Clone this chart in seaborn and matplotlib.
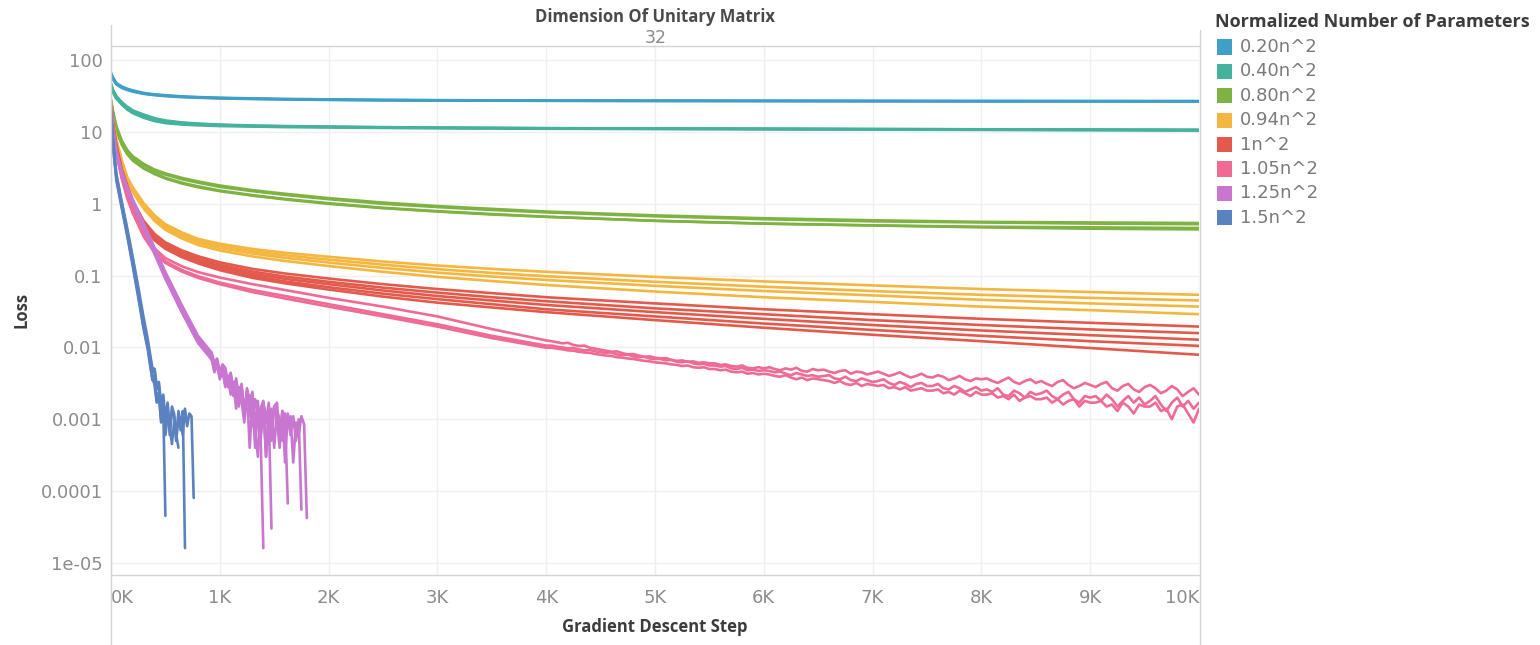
import numpy as np
import pandas as pd
import matplotlib
matplotlib.use("Agg")
import matplotlib.pyplot as plt
import seaborn as sns
from matplotlib.lines import Line2D
from matplotlib.patches import Rectangle
from matplotlib.ticker import NullLocator

# ---------------------------------------------------------------- data
GROUPS = ["0.20n^2", "0.40n^2", "0.80n^2", "0.94n^2", "1n^2", "1.05n^2", "1.25n^2", "1.5n^2"]
COLORS = ["#3f9fc7", "#45b29d", "#7eb343", "#f4b63f", "#e3594b", "#ef6b93", "#c876cf", "#5a82c0"]

# shared step grid for the smooth runs
STEPS = [0, 20, 50, 100, 150, 200, 300, 400, 500, 650, 800, 1000, 1300, 1600,
         2000, 2500, 3000, 3500, 4000, 5000, 6000, 7000, 8000, 9000, 10000]

LOSS_020 = [
    [66, 55, 47, 42, 39, 37, 34.5, 33, 32, 31, 30.3, 29.7, 29.1, 28.6, 28.2, 27.8, 27.6, 27.4, 27.3, 27.2, 27.1, 27.0, 26.9, 26.9, 26.8],
    [64, 54, 46, 41, 38.5, 36.5, 34, 32.6, 31.6, 30.6, 30.0, 29.4, 28.8, 28.4, 28.0, 27.6, 27.4, 27.3, 27.2, 27.0, 26.9, 26.8, 26.7, 26.7, 26.6],
    [67, 57, 48, 43, 40, 38, 35, 33.5, 32.5, 31.4, 30.7, 30.0, 29.4, 28.9, 28.5, 28.1, 27.8, 27.6, 27.5, 27.4, 27.3, 27.2, 27.1, 27.0, 27.0],
]
LOSS_040 = [
    [46, 37, 31, 25.5, 22, 19.5, 17, 15.2, 14.2, 13.4, 12.9, 12.5, 12.2, 12.0, 11.8, 11.6, 11.5, 11.4, 11.3, 11.2, 11.1, 11.0, 10.9, 10.8, 10.7],
    [44, 35, 29, 24, 20.5, 18.3, 15.8, 14.2, 13.3, 12.7, 12.4, 12.1, 11.9, 11.7, 11.6, 11.4, 11.3, 11.2, 11.1, 11.0, 10.9, 10.8, 10.7, 10.6, 10.5],
    [45, 36, 30, 25, 21.5, 19, 16.5, 14.8, 13.9, 13.2, 12.8, 12.4, 12.1, 11.9, 11.7, 11.5, 11.4, 11.3, 11.2, 11.1, 11.0, 10.9, 10.8, 10.7, 10.6],
    [47, 38, 31.5, 26, 22.5, 20, 17.5, 15.6, 14.5, 13.6, 13.1, 12.7, 12.3, 12.1, 11.9, 11.7, 11.5, 11.4, 11.3, 11.2, 11.1, 11.0, 10.9, 10.8, 10.7],
]
LOSS_080 = [
    [28, 19, 12, 7.5, 5.6, 4.6, 3.6, 3.0, 2.65, 2.3, 2.05, 1.8, 1.55, 1.38, 1.2, 1.04, 0.93, 0.85, 0.78, 0.69, 0.63, 0.59, 0.56, 0.55, 0.54],
    [27, 18, 11.5, 7.2, 5.4, 4.4, 3.5, 2.9, 2.55, 2.2, 1.97, 1.72, 1.5, 1.33, 1.16, 1.0, 0.9, 0.82, 0.76, 0.67, 0.61, 0.57, 0.55, 0.53, 0.52],
    [26, 17, 10.5, 6.6, 4.9, 4.0, 3.1, 2.6, 2.25, 1.92, 1.7, 1.5, 1.3, 1.15, 1.0, 0.87, 0.78, 0.71, 0.66, 0.58, 0.53, 0.5, 0.48, 0.47, 0.46],
    [27, 17.5, 10.8, 6.8, 5.0, 4.1, 3.2, 2.7, 2.3, 1.97, 1.75, 1.53, 1.32, 1.17, 1.02, 0.88, 0.79, 0.72, 0.66, 0.58, 0.53, 0.5, 0.47, 0.45, 0.44],
]
LOSS_094 = [
    [23, 13.5, 7.8, 4.0, 2.35, 1.7, 1.02, 0.69, 0.52, 0.4, 0.325, 0.278, 0.235, 0.208, 0.183, 0.157, 0.138, 0.124, 0.113, 0.096, 0.083, 0.073, 0.065, 0.059, 0.054],
    [22, 13, 7.5, 3.8, 2.2, 1.6, 0.96, 0.65, 0.49, 0.375, 0.305, 0.26, 0.218, 0.192, 0.167, 0.142, 0.123, 0.109, 0.098, 0.082, 0.07, 0.061, 0.054, 0.049, 0.045],
    [22, 12.6, 7.2, 3.65, 2.1, 1.52, 0.91, 0.62, 0.465, 0.355, 0.288, 0.243, 0.203, 0.177, 0.152, 0.128, 0.11, 0.097, 0.087, 0.072, 0.061, 0.053, 0.046, 0.041, 0.037],
    [21, 12.2, 7.0, 3.5, 2.0, 1.45, 0.86, 0.58, 0.435, 0.33, 0.267, 0.224, 0.185, 0.16, 0.136, 0.113, 0.096, 0.084, 0.074, 0.06, 0.05, 0.043, 0.037, 0.033, 0.029],
]
LOSS_100 = [
    [25, 12.8, 6.5, 3.0, 1.8, 1.1, 0.58, 0.38, 0.29, 0.225, 0.186, 0.153, 0.124, 0.107, 0.091, 0.076, 0.065, 0.057, 0.05, 0.041, 0.034, 0.029, 0.025, 0.022, 0.0195],
    [24, 12.3, 6.2, 2.9, 1.72, 1.05, 0.55, 0.36, 0.275, 0.21, 0.174, 0.142, 0.114, 0.097, 0.082, 0.068, 0.058, 0.05, 0.044, 0.035, 0.029, 0.024, 0.0205, 0.0178, 0.0158],
    [24, 12, 6.0, 2.8, 1.65, 1.0, 0.52, 0.34, 0.26, 0.2, 0.165, 0.134, 0.106, 0.09, 0.076, 0.062, 0.052, 0.045, 0.039, 0.031, 0.025, 0.0205, 0.0172, 0.0148, 0.0128],
    [23, 11.6, 5.8, 2.7, 1.58, 0.96, 0.5, 0.325, 0.247, 0.19, 0.156, 0.126, 0.099, 0.083, 0.069, 0.056, 0.047, 0.04, 0.034, 0.027, 0.0215, 0.0175, 0.0145, 0.0122, 0.0105],
    [23, 11.2, 5.6, 2.6, 1.52, 0.92, 0.48, 0.31, 0.236, 0.181, 0.148, 0.119, 0.093, 0.078, 0.064, 0.051, 0.042, 0.036, 0.031, 0.024, 0.0188, 0.015, 0.0122, 0.0098, 0.0079],
]

# 1.05n^2: smooth part on STEPS up to 4000, then noisy tail (units of 1e-4)
LOSS_105_HEAD = [
    [25, 11.5, 5.4, 2.4, 1.3, 0.82, 0.4, 0.24, 0.175, 0.135, 0.112, 0.094, 0.076, 0.063, 0.049, 0.037, 0.027, 0.018, 0.0125],
    [26, 11, 5.2, 2.3, 1.25, 0.78, 0.37, 0.22, 0.158, 0.12, 0.098, 0.08, 0.063, 0.052, 0.04, 0.029, 0.021, 0.0145, 0.0106],
    [24, 10.5, 5.0, 2.2, 1.18, 0.74, 0.35, 0.208, 0.15, 0.114, 0.093, 0.076, 0.059, 0.048, 0.037, 0.027, 0.0195, 0.0135, 0.0099],
]
TAIL_105_START, TAIL_105_EVERY = 4050, 50
LOSS_105_TAIL = [
    [122, 118, 114, 116, 108, 105, 106, 99, 96, 93,
     90, 87, 88, 83, 80, 81, 77, 74, 75, 72,
     70, 71, 67, 65, 66, 63, 64, 61, 62, 60,
     60, 57, 58, 55, 54, 56, 52, 51, 53, 51,
     53, 50, 48, 51, 49, 52, 47, 46, 50, 48,
     49, 46, 44, 47, 48, 43, 46, 45, 42, 44,
     46, 43, 40, 42, 45, 41, 38, 40, 43, 39,
     38, 41, 39, 35, 37, 40, 36, 34, 37, 36,
     37, 34, 32, 35, 38, 33, 31, 34, 36, 32,
     34, 31, 29, 33, 35, 30, 27, 29, 32, 30,
     28, 31, 33, 27, 25, 29, 31, 26, 24, 28,
     30, 27, 23, 25, 29, 26, 21, 24, 27, 22],
    [106, 102, 100, 97, 98, 94, 91, 92, 88, 86,
     84, 85, 80, 78, 79, 75, 73, 74, 70, 69,
     69, 66, 67, 63, 62, 64, 60, 58, 59, 56,
     56, 54, 55, 51, 50, 52, 48, 49, 47, 48,
     47, 45, 46, 43, 41, 44, 42, 40, 41, 39,
     40, 41, 37, 36, 39, 35, 34, 37, 35, 33,
     34, 36, 32, 30, 33, 31, 28, 31, 32, 29,
     29, 31, 27, 26, 29, 27, 24, 26, 28, 25,
     26, 24, 27, 22, 21, 25, 23, 20, 24, 22,
     23, 25, 21, 19, 22, 24, 19, 17, 21, 20,
     21, 18, 22, 19, 15, 18, 21, 17, 20, 16,
     18, 21, 16, 13, 17, 20, 15, 18, 14, 17],
    [99, 96, 94, 91, 90, 87, 85, 84, 81, 79,
     77, 76, 73, 72, 70, 69, 67, 65, 64, 62,
     61, 60, 58, 57, 55, 56, 53, 52, 53, 50,
     50, 48, 49, 46, 45, 46, 43, 44, 42, 43,
     42, 40, 39, 41, 38, 36, 38, 35, 37, 36,
     35, 34, 32, 34, 31, 30, 32, 29, 31, 30,
     29, 30, 27, 28, 26, 28, 25, 26, 27, 25,
     25, 26, 23, 24, 22, 25, 23, 21, 24, 22,
     22, 23, 20, 21, 19, 22, 18, 20, 21, 19,
     19, 20, 17, 19, 16, 18, 19, 15, 18, 17,
     17, 18, 15, 16, 13, 17, 15, 12, 16, 15,
     15, 17, 13, 14, 10, 15, 16, 12, 9, 14],
]

# 1.25n^2: smooth head, then noisy tail (units of 1e-4) ending in a sharp drop
HEAD_125_STEPS = [0, 20, 50, 100, 150, 200, 300, 400, 500, 650, 800, 900]
LOSS_125_HEAD = [
    [19, 9.5, 5.0, 2.6, 1.58, 1.04, 0.46, 0.21, 0.095, 0.032, 0.012, 0.0078],
    [20, 10, 5.2, 2.7, 1.65, 1.1, 0.5, 0.23, 0.105, 0.036, 0.0135, 0.0088],
    [21, 10.5, 5.4, 2.8, 1.72, 1.15, 0.53, 0.245, 0.112, 0.039, 0.0145, 0.0094],
    [20, 10, 5.1, 2.65, 1.6, 1.07, 0.48, 0.22, 0.1, 0.034, 0.013, 0.0082],
    [19, 9.8, 5.0, 2.55, 1.55, 1.02, 0.45, 0.2, 0.09, 0.031, 0.0115, 0.0075],
]
TAIL_125_START, TAIL_125_EVERY = 925, 25
LOSS_125_TAIL = [
    [70, 45, 58, 36, 48, 28, 40, 22, 33, 14, 27, 18, 9, 21, 11, 17, 4, 14, 6, 0.16],
    [80, 55, 68, 40, 55, 31, 36, 44, 22, 33, 16, 28, 12, 24, 4, 20, 8, 18, 6, 16, 3, 12, 0.3],
    [85, 62, 70, 45, 58, 52, 34, 44, 25, 37, 20, 31, 12, 27, 18, 24, 7, 3, 14, 18,
     9, 17, 5, 15, 17, 6, 13, 10, 0.67],
    [75, 52, 64, 40, 50, 44, 28, 40, 21, 34, 15, 29, 11, 24, 20, 8, 19, 13, 5, 17,
     3, 14, 7, 15, 10, 4, 13, 2.5, 12, 6, 11, 5, 10, 0.55],
    [68, 50, 58, 38, 46, 33, 40, 24, 33, 19, 28, 25, 12, 22, 15, 9, 18, 14, 6, 16,
     12, 7, 14, 4, 13, 10, 5, 12, 8, 11, 2.5, 9, 6, 11, 8.5, 0.42],
]

# 1.5n^2: smooth head, then noisy tail (units of 1e-4) ending in a sharp drop
HEAD_150_STEPS = [0, 20, 50, 100, 150, 200, 250, 300, 340]
LOSS_150_HEAD = [
    [18, 6.2, 2.2, 0.9, 0.37, 0.145, 0.054, 0.019, 0.0095],
    [19, 6.8, 2.4, 1.0, 0.42, 0.17, 0.064, 0.023, 0.011],
    [20, 7.2, 2.6, 1.05, 0.45, 0.18, 0.07, 0.026, 0.0125],
    [18, 6.0, 2.1, 0.85, 0.35, 0.135, 0.05, 0.018, 0.009],
]
TAIL_150_START, TAIL_150_EVERY = 360, 20
LOSS_150_TAIL = [
    [60, 35, 42, 18, 24, 9, 15, 0.45],
    [72, 45, 50, 26, 30, 14, 20, 8, 16, 6, 13, 11, 5, 12, 7, 13, 0.16],
    [80, 52, 50, 30, 33, 17, 22, 10, 17, 7, 15, 12, 5, 13, 9, 6, 14, 8, 12, 11, 0.8],
    [55, 38, 30, 17, 20, 10, 14, 6, 11, 8, 4.5, 9, 6, 4],
]

Y_TICKS = [1e-5, 1e-4, 1e-3, 1e-2, 0.1, 1, 10, 100]
Y_TICK_LABELS = ["1e-05", "0.0001", "0.001", "0.01", "0.1", "1", "10", "100"]
X_TICKS = list(range(0, 10001, 1000))
X_TICK_LABELS = [f"{k}K" for k in range(11)]

# ---------------------------------------------------------------- long table
records = []


def add_run(group, run_id, steps, losses):
    for s, v in zip(steps, losses):
        records.append((group, f"{group}|{run_id}", s, v))


for i, run in enumerate(LOSS_020):
    add_run(GROUPS[0], i, STEPS, run)
for i, run in enumerate(LOSS_040):
    add_run(GROUPS[1], i, STEPS, run)
for i, run in enumerate(LOSS_080):
    add_run(GROUPS[2], i, STEPS, run)
for i, run in enumerate(LOSS_094):
    add_run(GROUPS[3], i, STEPS, run)
for i, run in enumerate(LOSS_100):
    add_run(GROUPS[4], i, STEPS, run)
for i, (head, tail) in enumerate(zip(LOSS_105_HEAD, LOSS_105_TAIL)):
    tail_steps = [TAIL_105_START + TAIL_105_EVERY * k for k in range(len(tail))]
    add_run(GROUPS[5], i, STEPS[:len(head)] + tail_steps,
            list(head) + [v * 1e-4 for v in tail])
for i, (head, tail) in enumerate(zip(LOSS_125_HEAD, LOSS_125_TAIL)):
    tail_steps = [TAIL_125_START + TAIL_125_EVERY * k for k in range(len(tail))]
    add_run(GROUPS[6], i, HEAD_125_STEPS + tail_steps,
            list(head) + [v * 1e-4 for v in tail])
for i, (head, tail) in enumerate(zip(LOSS_150_HEAD, LOSS_150_TAIL)):
    tail_steps = [TAIL_150_START + TAIL_150_EVERY * k for k in range(len(tail))]
    add_run(GROUPS[7], i, HEAD_150_STEPS + tail_steps,
            list(head) + [v * 1e-4 for v in tail])

df = pd.DataFrame(records, columns=["group", "run", "step", "loss"])

# ---------------------------------------------------------------- figure
sns.set_style("white")
plt.rcParams["font.family"] = ["DejaVu Sans"]

W, H = 1540, 645
fig = plt.figure(figsize=(W / 100, H / 100), dpi=100)


def fx(px):
    return px / W


def fy(py):
    return 1 - py / H


ax_l, ax_r, ax_t, ax_b = 111, 1199, 46, 575
ax = fig.add_axes([fx(ax_l), fy(ax_b), fx(ax_r - ax_l), (ax_b - ax_t) / H])

sns.lineplot(data=df, x="step", y="loss", hue="group", units="run",
             estimator=None, sort=False, hue_order=GROUPS,
             palette=dict(zip(GROUPS, COLORS)), linewidth=1.9,
             legend=False, ax=ax)

ax.set_yscale("log")
ax.set_ylim(10 ** -5.17, 10 ** 2.198)
ax.set_xlim(0, 10000)
ax.set_yticks(Y_TICKS)
ax.set_yticklabels(Y_TICK_LABELS)
ax.yaxis.set_minor_locator(NullLocator())
ax.set_xticks(X_TICKS)
ax.set_xticklabels(X_TICK_LABELS)
xl = ax.get_xticklabels()
xl[0].set_ha("left")
xl[-1].set_ha("right")

tick_color = "#8c8c8c"
ax.tick_params(axis="both", length=0, labelsize=13, labelcolor=tick_color)
ax.tick_params(axis="x", pad=10)
ax.tick_params(axis="y", pad=6)
ax.grid(True, color="#efefef", linewidth=1)
ax.set_axisbelow(True)
for sp in ax.spines.values():
    sp.set_visible(False)
ax.set_xlabel("")
ax.set_ylabel("")

# pane borders
line_kw = dict(transform=fig.transFigure, color="#d4d4d4", linewidth=1)
fig.add_artist(Line2D([fx(ax_l), fx(ax_l)], [fy(25), fy(645)], **line_kw))
fig.add_artist(Line2D([fx(ax_l), fx(ax_r)], [fy(ax_t), fy(ax_t)], **line_kw))
fig.add_artist(Line2D([fx(ax_l), fx(ax_r)], [fy(ax_b), fy(ax_b)], **line_kw))
fig.add_artist(Line2D([fx(ax_r + 1), fx(ax_r + 1)], [fy(30), fy(645)], **line_kw))

# headers and axis titles
title_font = dict(family=["Open Sans", "DejaVu Sans"], fontweight="bold")
fig.text(fx(655), fy(17), "Dimension Of Unitary Matrix", ha="center", va="center",
         fontsize=12, color="#4a4a4a", **title_font)
fig.text(fx(656), fy(38), "32", ha="center", va="center", fontsize=12.5, color="#8c8c8c")
fig.text(fx(655), fy(627), "Gradient Descent Step", ha="center", va="center",
         fontsize=12, color="#3c3c3c", **title_font)
fig.text(fx(22), fy(310), "Loss", ha="center", va="center", rotation=90,
         fontsize=12, color="#3c3c3c", **title_font)

# colour legend
fig.text(fx(1215), fy(22), "Normalized Number of Parameters", ha="left", va="center",
         fontsize=13, color="#3c3c3c", **title_font)
for i, (g, c) in enumerate(zip(GROUPS, COLORS)):
    yc = 47 + 24.4 * i
    fig.add_artist(Rectangle((fx(1217), fy(yc + 7.5)), fx(15), 15 / H,
                             transform=fig.transFigure, color=c, linewidth=0))
    fig.text(fx(1240), fy(yc), g, ha="left", va="center", fontsize=13, color="#7a7a7a")

fig.savefig("out.png", dpi=100)
